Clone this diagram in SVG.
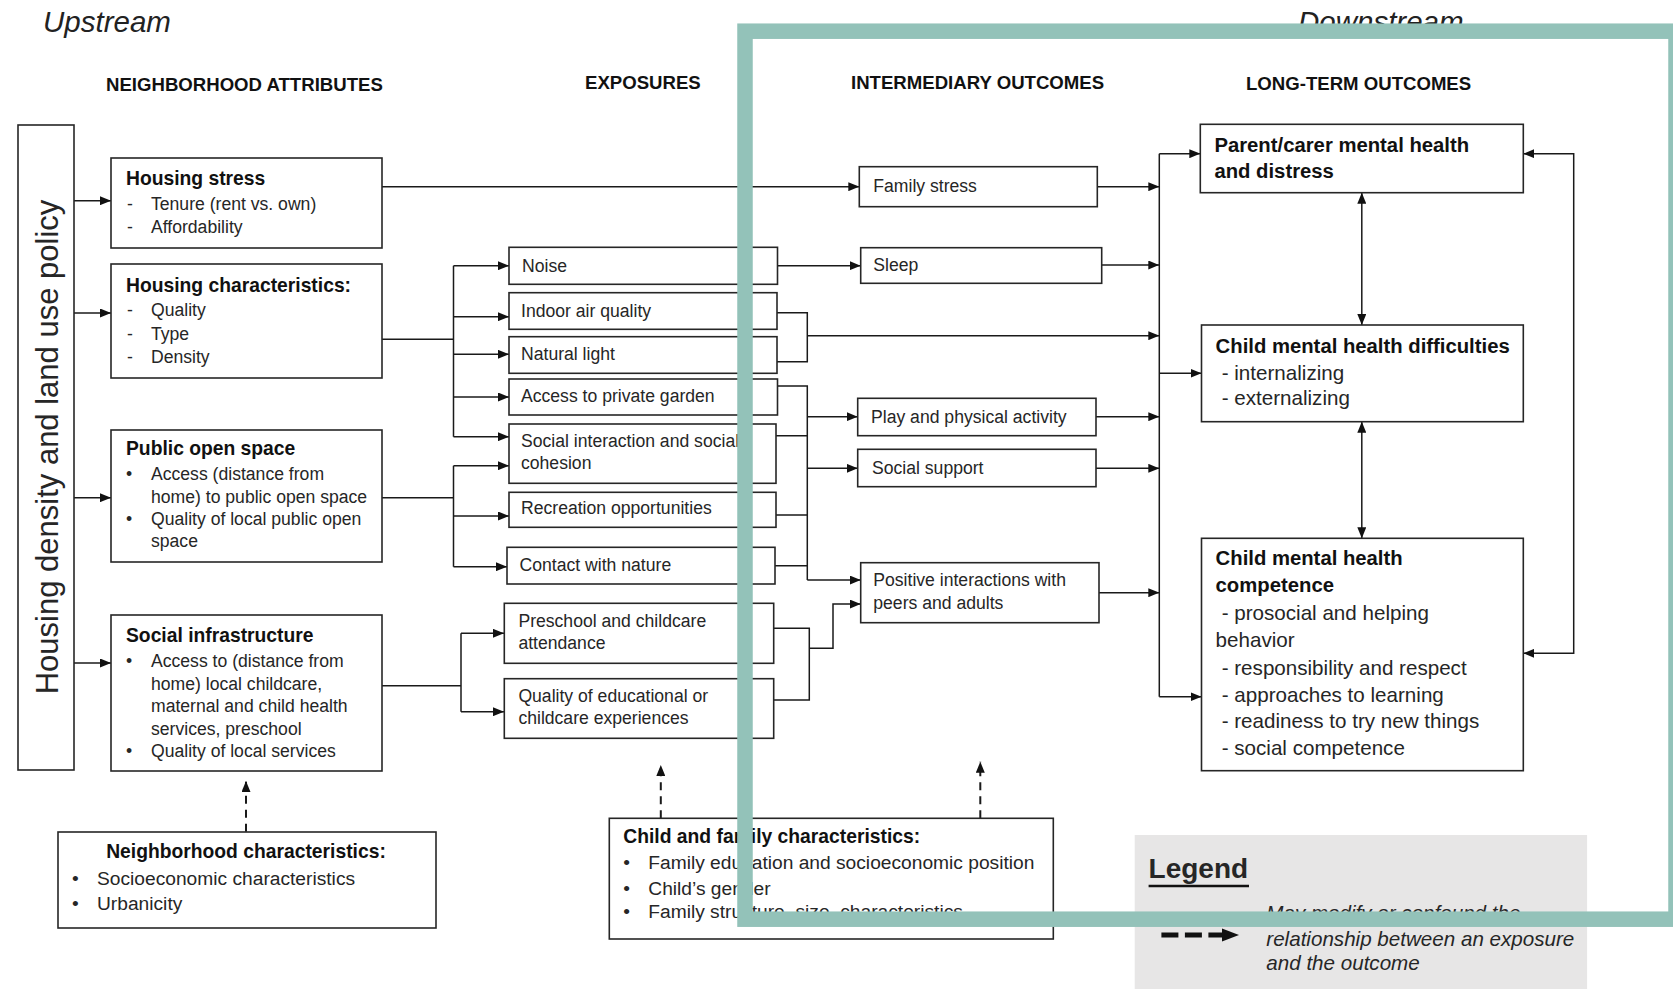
<svg xmlns="http://www.w3.org/2000/svg" width="1673" height="989" viewBox="0 0 1673 989">
<style>
  text { font-family: "Liberation Sans", Arial, sans-serif; fill: #262626; }
  .hdr { font-size: 18.6px; font-weight: bold; fill: #111; }
  .dir { font-size: 29.5px; font-style: italic; fill: #222; }
  .ttl { font-size: 19.3px; font-weight: bold; fill: #111; }
  .txt { font-size: 17.6px; }
  .rttl { font-size: 20.3px; font-weight: bold; fill: #111; }
  .rtxt { font-size: 20.6px; }
  .ctx { font-size: 19.2px; }
  .leg { font-size: 20.6px; font-style: italic; }
  .box { fill: #fff; stroke: #262626; stroke-width: 1.6; }
  .ln { fill: none; stroke: #1a1a1a; stroke-width: 1.5; }
  .arr { fill: none; stroke: #1a1a1a; stroke-width: 1.5; marker-end: url(#ah); }
  .dbl { fill: none; stroke: #1a1a1a; stroke-width: 1.5; marker-start: url(#ah); marker-end: url(#ah); }
  .dash { fill: none; stroke: #1a1a1a; stroke-width: 2; stroke-dasharray: 8 6; marker-end: url(#ah); }
</style>
<defs>
  <marker id="ah" markerUnits="userSpaceOnUse" markerWidth="11" markerHeight="9" refX="11" refY="4.5" orient="auto-start-reverse">
    <path d="M0,0 L11,4.5 L0,9 Z" fill="#111"/>
  </marker>
</defs>

<!-- direction labels and column headers -->
<g id="headings">
  <text class="dir" x="43" y="31.5">Upstream</text>
  <text class="dir" x="1298" y="31.5">Downstream</text>
  <text class="hdr" x="106" y="91">NEIGHBORHOOD ATTRIBUTES</text>
  <text class="hdr" x="585" y="89">EXPOSURES</text>
  <text class="hdr" x="851" y="89">INTERMEDIARY OUTCOMES</text>
  <text class="hdr" x="1246" y="90">LONG-TERM OUTCOMES</text>
</g>

<!-- connectors -->
<g id="connectors">
  <!-- policy to neighborhood attributes -->
  <path class="arr" d="M74,200.7 H111"/>
  <path class="arr" d="M74,313 H111"/>
  <path class="arr" d="M74,497.7 H111"/>
  <path class="arr" d="M74,663 H111"/>
  <!-- housing stress to family stress -->
  <path class="arr" d="M382,186.7 H859.3"/>
  <!-- housing characteristics fan-out -->
  <path class="ln" d="M382,339.3 H453.5 M453.5,265.7 V436.7"/>
  <path class="arr" d="M453.5,265.7 H509"/>
  <path class="arr" d="M453.5,316.7 H509"/>
  <path class="arr" d="M453.5,354.3 H509"/>
  <path class="arr" d="M453.5,397 H509"/>
  <path class="arr" d="M453.5,436.7 H509"/>
  <!-- public open space fan-out -->
  <path class="ln" d="M382,497.7 H453.5 M453.5,465.7 V566.7"/>
  <path class="arr" d="M453.5,465.7 H509"/>
  <path class="arr" d="M453.5,516 H509"/>
  <path class="arr" d="M453.5,566.7 H507"/>
  <!-- social infrastructure fan-out -->
  <path class="ln" d="M382,685.7 H461 M461,633.3 V711.7"/>
  <path class="arr" d="M461,633.3 H504"/>
  <path class="arr" d="M461,711.7 H504"/>
  <!-- exposures to intermediary outcomes -->
  <path class="arr" d="M777.5,265.7 H860.7"/>
  <path class="ln" d="M777,312.7 H807.3 V361.7 H777"/>
  <path class="arr" d="M807.3,335.7 H1159.3"/>
  <path class="ln" d="M777.5,386 H807.3 V580 M776,435.7 H807.3 M776,515 H807.3 M775,565.7 H807.3"/>
  <path class="arr" d="M807.3,416.7 H857.7"/>
  <path class="arr" d="M807.3,468.3 H857.7"/>
  <path class="arr" d="M807.3,580 H860.7"/>
  <path class="ln" d="M774,628.3 H809.3 V700 H774"/>
  <path class="arr" d="M809.3,648.3 H833 V604 H860.7"/>
  <!-- intermediary outcomes to long-term bus -->
  <path class="arr" d="M1097.3,186.7 H1159.3"/>
  <path class="arr" d="M1101.7,265 H1159.3"/>
  <path class="arr" d="M1096,416.7 H1159.3"/>
  <path class="arr" d="M1096,468.3 H1159.3"/>
  <path class="arr" d="M1099,592.7 H1159.3"/>
  <path class="ln" d="M1159.3,153.7 V696.7"/>
  <path class="arr" d="M1159.3,153.7 H1200.3"/>
  <path class="arr" d="M1159.3,373.3 H1201.5"/>
  <path class="arr" d="M1159.3,696.7 H1201.5"/>
  <!-- links between long-term outcomes -->
  <path class="dbl" d="M1361.8,192.7 V325"/>
  <path class="dbl" d="M1361.8,421.7 V538.3"/>
  <path class="dbl" d="M1523.3,153.7 H1573.7 V653.3 H1523.3"/>
  <!-- modifiers / confounders -->
  <path class="dash" d="M246,831.7 V781"/>
  <path class="dash" d="M660.8,818.3 V765"/>
  <path class="dash" d="M980.3,818.3 V761.7"/>
</g>

<g id="node-policy">
  <rect class="box" x="18" y="125" width="56" height="645"/>
  <text x="0" y="0" font-size="31" text-anchor="middle" transform="translate(58,447) rotate(-90)">Housing density and land use policy</text>
</g>

<g id="node-housing-stress">
  <rect class="box" x="111" y="158" width="271" height="90"/>
  <text class="ttl" x="126" y="185">Housing stress</text>
  <text class="txt" x="127" y="210">-</text><text class="txt" x="151" y="210">Tenure (rent vs. own)</text>
  <text class="txt" x="127" y="233">-</text><text class="txt" x="151" y="233">Affordability</text>
</g>

<g id="node-housing-characteristics">
  <rect class="box" x="111" y="264" width="271" height="114"/>
  <text class="ttl" x="126" y="291.7">Housing characteristics:</text>
  <text class="txt" x="127" y="316">-</text><text class="txt" x="151" y="316">Quality</text>
  <text class="txt" x="127" y="339.5">-</text><text class="txt" x="151" y="339.5">Type</text>
  <text class="txt" x="127" y="363">-</text><text class="txt" x="151" y="363">Density</text>
</g>

<g id="node-public-open-space">
  <rect class="box" x="111" y="430" width="271" height="132"/>
  <text class="ttl" x="126" y="455">Public open space</text>
  <text class="txt" x="126" y="480">•</text><text class="txt" x="151" y="480">Access (distance from</text>
  <text class="txt" x="151" y="503">home)  to public open space</text>
  <text class="txt" x="126" y="525">•</text><text class="txt" x="151" y="525">Quality of local public open</text>
  <text class="txt" x="151" y="547">space</text>
</g>

<g id="node-social-infrastructure">
  <rect class="box" x="111" y="615" width="271" height="156"/>
  <text class="ttl" x="126" y="642">Social infrastructure</text>
  <text class="txt" x="126" y="667">•</text><text class="txt" x="151" y="667">Access to (distance from</text>
  <text class="txt" x="151" y="689.5">home)  local childcare,</text>
  <text class="txt" x="151" y="712">maternal and child health</text>
  <text class="txt" x="151" y="734.5">services, preschool</text>
  <text class="txt" x="126" y="757">•</text><text class="txt" x="151" y="757">Quality of local services</text>
</g>

<g id="node-neighborhood-characteristics">
  <rect class="box" x="58" y="832" width="378" height="96"/>
  <text class="ttl" x="246" y="858" text-anchor="middle">Neighborhood characteristics:</text>
  <text class="ctx" x="72" y="885">•</text><text class="ctx" x="97" y="885">Socioeconomic  characteristics</text>
  <text class="ctx" x="72" y="910">•</text><text class="ctx" x="97" y="910">Urbanicity</text>
</g>

<g id="node-noise">
  <rect class="box" x="509" y="247.3" width="268.5" height="37"/>
  <text class="txt" x="522" y="271.5">Noise</text>
</g>
<g id="node-indoor-air">
  <rect class="box" x="509" y="292.7" width="268" height="36.6"/>
  <text class="txt" x="521" y="316.5">Indoor air quality</text>
</g>
<g id="node-natural-light">
  <rect class="box" x="509" y="336.7" width="268" height="36.6"/>
  <text class="txt" x="521" y="360">Natural light</text>
</g>
<g id="node-private-garden">
  <rect class="box" x="509" y="379" width="268.5" height="36"/>
  <text class="txt" x="521" y="402">Access to private garden</text>
</g>
<g id="node-social-interaction">
  <rect class="box" x="509" y="424" width="267" height="59.3"/>
  <text class="txt" x="521" y="446.7">Social interaction and social</text>
  <text class="txt" x="521" y="469.3">cohesion</text>
</g>
<g id="node-recreation">
  <rect class="box" x="509" y="492.3" width="267" height="35"/>
  <text class="txt" x="521" y="514">Recreation opportunities</text>
</g>
<g id="node-contact-nature">
  <rect class="box" x="507" y="547.3" width="268" height="36.7"/>
  <text class="txt" x="519.6" y="570.5">Contact with nature</text>
</g>
<g id="node-preschool">
  <rect class="box" x="504.3" y="603.3" width="269.4" height="60"/>
  <text class="txt" x="518.4" y="626.7">Preschool and childcare</text>
  <text class="txt" x="518.4" y="649.3">attendance</text>
</g>
<g id="node-education-quality">
  <rect class="box" x="504.3" y="678.7" width="269.4" height="59.6"/>
  <text class="txt" x="518.4" y="701.7">Quality of educational or</text>
  <text class="txt" x="518.4" y="724.3">childcare experiences</text>
</g>

<g id="node-child-family">
  <rect class="box" x="609.3" y="818.3" width="444" height="120.7"/>
  <text class="ttl" x="623.3" y="843.3">Child and family characteristics:</text>
  <text class="ctx" x="623.3" y="869.3">•</text><text class="ctx" x="648.3" y="869.3">Family education and socioeconomic position</text>
  <text class="ctx" x="623.3" y="895">•</text><text class="ctx" x="648.3" y="895">Child’s gender</text>
  <text class="ctx" x="623.3" y="918.3">•</text><text class="ctx" x="648.3" y="918.3">Family structure, size, characteristics</text>
</g>

<g id="node-family-stress">
  <rect class="box" x="859.3" y="166.7" width="238" height="40"/>
  <text class="txt" x="873.3" y="192">Family stress</text>
</g>
<g id="node-sleep">
  <rect class="box" x="860.7" y="247.7" width="241" height="35.6"/>
  <text class="txt" x="873.3" y="270.5">Sleep</text>
</g>
<g id="node-play">
  <rect class="box" x="857.7" y="398.3" width="238.3" height="37.4"/>
  <text class="txt" x="871" y="423">Play and physical activity</text>
</g>
<g id="node-social-support">
  <rect class="box" x="857.7" y="449.3" width="238.3" height="37.4"/>
  <text class="txt" x="872" y="473.5">Social support</text>
</g>
<g id="node-positive-interactions">
  <rect class="box" x="860.7" y="562.7" width="238.3" height="60"/>
  <text class="txt" x="873.3" y="586">Positive interactions with</text>
  <text class="txt" x="873.3" y="609.3">peers and adults</text>
</g>

<g id="node-parent-mental-health">
  <rect class="box" x="1200.3" y="124.3" width="323" height="68.4"/>
  <text class="rttl" x="1214.4" y="151.7">Parent/carer mental health</text>
  <text class="rttl" x="1214.4" y="178.3">and distress</text>
</g>
<g id="node-child-difficulties">
  <rect class="box" x="1201.5" y="325" width="321.8" height="96.7"/>
  <text class="rttl" x="1215.6" y="353.3">Child mental health difficulties</text>
  <text class="rtxt" x="1221.7" y="380">- internalizing</text>
  <text class="rtxt" x="1221.7" y="405">- externalizing</text>
</g>
<g id="node-child-competence">
  <rect class="box" x="1201.5" y="538.3" width="321.8" height="232.4"/>
  <text class="rttl" x="1215.6" y="565">Child mental health</text>
  <text class="rttl" x="1215.6" y="591.7">competence</text>
  <text class="rtxt" x="1221.7" y="620">- prosocial and helping</text>
  <text class="rtxt" x="1215.6" y="646.7">behavior</text>
  <text class="rtxt" x="1221.7" y="675">- responsibility and respect</text>
  <text class="rtxt" x="1221.7" y="701.7">- approaches to learning</text>
  <text class="rtxt" x="1221.7" y="728.3">- readiness to try new things</text>
  <text class="rtxt" x="1221.7" y="755">- social competence</text>
</g>

<g id="legend">
  <rect x="1134.7" y="835" width="452.4" height="160" fill="#e7e6e6"/>
  <text x="1148.6" y="878" font-size="28" font-weight="bold" fill="#111">Legend</text>
  <line x1="1148.6" y1="886" x2="1249" y2="886" stroke="#111" stroke-width="2.5"/>
  <path d="M1161.4,935 H1223" fill="none" stroke="#111" stroke-width="5" stroke-dasharray="17 6.5"/>
  <path d="M1222,928.5 L1239,935 L1222,941.5 Z" fill="#111"/>
  <text class="leg" x="1266.3" y="920">May modify or confound the</text>
  <text class="leg" x="1266.3" y="945.5">relationship between an exposure</text>
  <text class="leg" x="1266.3" y="970">and the outcome</text>
</g>

<!-- highlighted downstream region -->
<rect id="downstream-frame" x="745" y="31.2" width="931" height="888" fill="none" stroke="#93c2b9" stroke-width="15.5"/>
</svg>
